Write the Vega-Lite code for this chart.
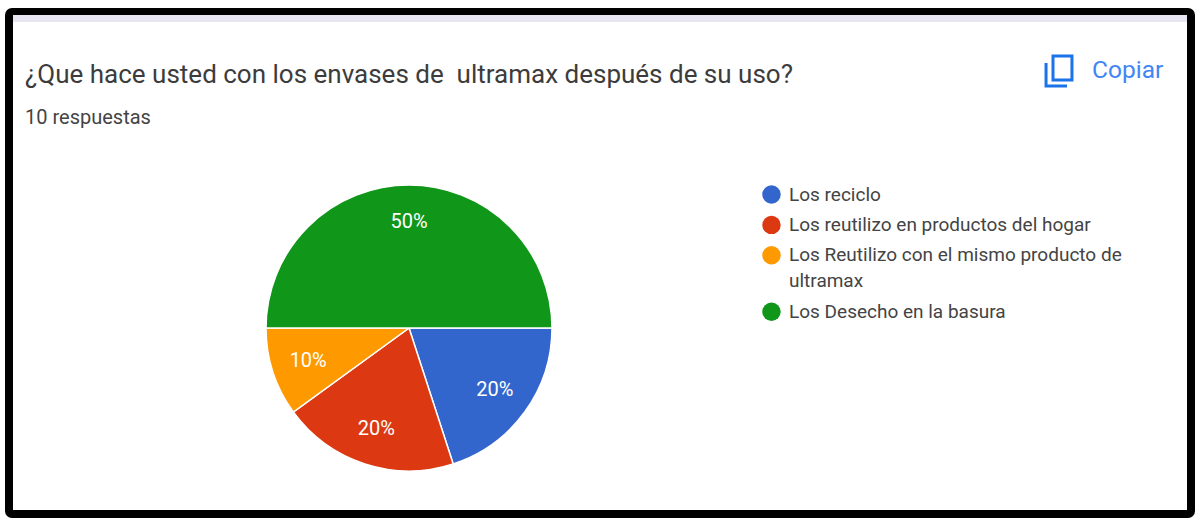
{"$schema":"https://vega.github.io/schema/vega-lite/v6.json","width":1182,"height":502,"autosize":"none","padding":{"left":9,"top":12,"right":5,"bottom":4},"background":"white","config":{"style":{"guide-label":{"lineHeight":26}}},"view":{"stroke":"#000000","strokeWidth":8,"cornerRadius":3,"fill":"white"},"title":{"text":"¿Que hace usted con los envases de \u00a0ultramax después de su uso?","subtitle":"10 respuestas","anchor":"start","frame":"group","orient":"top","dx":16,"dy":141,"font":"Roboto","fontSize":26,"fontWeight":"normal","color":"#3c3c3c","subtitleFont":"Roboto","subtitleFontSize":20,"subtitleColor":"#444444","subtitlePadding":15,"baseline":"alphabetic"},"data":{"values":[{"respuesta":"Los reciclo","orden":1,"valor":20,"pct":"20%"},{"respuesta":"Los reutilizo en productos del hogar","orden":2,"valor":20,"pct":"20%"},{"respuesta":"Los Reutilizo con el mismo producto de|ultramax","orden":3,"valor":10,"pct":"10%"},{"respuesta":"Los Desecho en la basura","orden":4,"valor":50,"pct":"50%"}]},"layer":[{"mark":{"type":"arc","radius":143,"stroke":"white","strokeWidth":1.5},"encoding":{"x":{"value":400},"y":{"value":316},"theta":{"field":"valor","type":"quantitative","stack":true,"scale":{"range":[1.5708,7.854]}},"order":{"field":"orden","type":"quantitative"},"color":{"field":"respuesta","type":"nominal","sort":["Los reciclo","Los reutilizo en productos del hogar","Los Reutilizo con el mismo producto de|ultramax","Los Desecho en la basura"],"scale":{"range":["#3366cc","#dc3912","#ff9900","#109618"]},"legend":{"title":null,"orient":"none","legendX":753,"legendY":173,"symbolType":"circle","symbolSize":340,"symbolStrokeWidth":0,"symbolOpacity":1,"labelFont":"Roboto","labelFontSize":19,"labelColor":"#444444","labelLimit":420,"rowPadding":10.4,"labelOffset":8,"labelExpr":"split(datum.label,'|')"}}}},{"mark":{"type":"text","font":"Roboto","fontSize":20,"color":"white","radius":106},"encoding":{"x":{"value":400},"y":{"value":316},"theta":{"field":"valor","type":"quantitative","stack":true,"scale":{"range":[1.5708,7.854]}},"order":{"field":"orden","type":"quantitative"},"text":{"field":"pct","type":"nominal"}}},{"data":{"values":[{"texto":"Copiar"}]},"layer":[{"mark":{"type":"text","font":"Roboto","fontSize":24.5,"fontWeight":"normal","color":"#4285f4","align":"left","baseline":"alphabetic","x":1083,"y":66},"encoding":{"text":{"field":"texto","type":"nominal"}}},{"mark":{"type":"point","filled":false,"stroke":"#1a73e8","strokeWidth":3,"opacity":1,"size":1024,"x":1050,"y":59,"shape":"M-0.375 -0.94H0.81V0.56H-0.375Z M-0.81 -0.5V0.94H0.5"},"encoding":{}},{"mark":{"type":"rect","fill":"#e8e6f3"},"encoding":{"x":{"value":4},"x2":{"value":1178},"y":{"value":3},"y2":{"value":10}}}]}]}
